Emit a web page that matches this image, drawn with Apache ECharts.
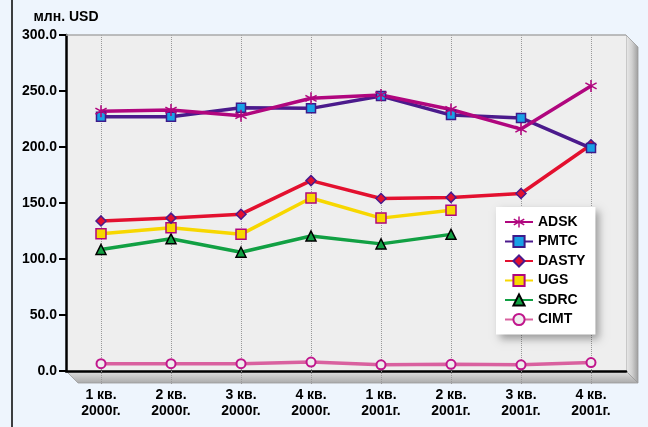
<!DOCTYPE html>
<html><head><meta charset="utf-8">
<script src="https://cdn.jsdelivr.net/npm/echarts@6/dist/echarts.min.js"></script>
<style>html,body{margin:0;padding:0;background:#eef5fd}#c{width:648px;height:427px}</style>
</head><body><div id="c"></div>
<script>
const categories = ['1 кв.\n2000г.','2 кв.\n2000г.','3 кв.\n2000г.','4 кв.\n2000г.','1 кв.\n2001г.','2 кв.\n2001г.','3 кв.\n2001г.','4 кв.\n2001г.'];
const yTicks = [0, 50, 100, 150, 200, 250, 300];
const ADSK  = [232, 233, 228, 243.5, 246.5, 233.5, 216, 254.5];
const PMTC  = [227, 227, 235, 234.5, 245.5, 228.5, 226, 199];
const DASTY = [134, 136.5, 140, 170, 154, 155, 158.5, 202];
const UGS   = [122.5, 128, 122, 154.5, 136.5, 143.5, null, null];
const SDRC  = [108.5, 118, 106, 120.5, 113.5, 122, null, null];
const CIMT  = [6.5, 6.5, 6.5, 8, 5.5, 6, 5.5, 7.5];

const asterisk = 'path://M-1.2,-10 L1.2,-10 L1.2,10 L-1.2,10 Z M-9.26,-3.96 L-8.06,-6.04 L9.26,3.96 L8.06,6.04 Z M8.06,-6.04 L9.26,-3.96 L-8.06,6.04 L-9.26,3.96 Z';
const font = "'Liberation Sans', Arial, sans-serif";

function mk(name, data, color, symbol, size, fill, border, bw) {
  return {
    name, type: 'line', data, xAxisIndex: 0,
    symbol, symbolSize: size, showAllSymbol: true,
    lineStyle: { color, width: 3.5 },
    itemStyle: { color: fill, borderColor: border, borderWidth: bw },
    emphasis: { disabled: true }, z: 3
  };
}

const chart = echarts.init(document.getElementById('c'), null, { renderer: 'canvas' });
chart.setOption({
  backgroundColor: '#eef5fd',
  animation: false,
  textStyle: { fontFamily: font },
  grid: { left: 66, right: 22, top: 35, bottom: 56, show: true, backgroundColor: '#eeeeee', borderWidth: 0 },
  legend: {
    orient: 'vertical', left: 496, top: 207,
    padding: [8, 10, 8, 8], itemGap: 5.5, itemWidth: 28, itemHeight: 14,
    backgroundColor: '#ffffff',
    shadowBlur: 8, shadowColor: 'rgba(0,0,0,0.35)', shadowOffsetX: 4, shadowOffsetY: 4,
    textStyle: { fontFamily: font, fontWeight: 'bold', fontSize: 14, color: '#000' },
    data: ['ADSK','PMTC','DASTY','UGS','SDRC','CIMT']
  },
  xAxis: [{
    type: 'category', data: categories, boundaryGap: true,
    axisLine: { lineStyle: { color: '#000', width: 2.5 } },
    axisTick: { length: 6, lineStyle: { color: '#000', width: 2 } },
    axisLabel: { interval: 0, margin: 16, fontFamily: font, fontWeight: 'bold', fontSize: 14, color: '#000', lineHeight: 16 },
    splitLine: { show: false }
  }, {
    type: 'category', data: categories, boundaryGap: true, position: 'bottom',
    axisLine: { show: false },
    axisLabel: { show: false },
    axisTick: { show: true, alignWithLabel: true, length: 14, lineStyle: { color: '#999', type: 'dotted', width: 1 } },
    splitLine: { show: true, alignWithLabel: true, lineStyle: { color: '#999', type: 'dotted', width: 1 } }
  }],
  yAxis: {
    type: 'value', min: yTicks[0], max: yTicks[yTicks.length - 1], interval: 50,
    name: 'млн. USD', nameLocation: 'end', nameGap: 11,
    nameTextStyle: { align: 'center', fontFamily: font, fontWeight: 'bold', fontSize: 14, color: '#000' },
    axisLine: { show: true, lineStyle: { color: '#000', width: 2.5 } },
    axisTick: { show: true, length: 7, lineStyle: { color: '#000', width: 2 } },
    axisLabel: { margin: 9, fontFamily: font, fontWeight: 'bold', fontSize: 14, color: '#000', formatter: v => v.toFixed(1) },
    splitLine: { show: false }
  },
  graphic: [
    { type: 'line', z: -1, shape: { x1: 12, y1: 0, x2: 12, y2: 427 }, style: { stroke: '#000', lineWidth: 1.5 } },
    { type: 'polygon', z: -1, shape: { points: [[66,371],[626,371],[638,383],[78,383]] },
      style: { fill: new echarts.graphic.LinearGradient(0,0,0,1,[{offset:0,color:'#e4e4e4'},{offset:1,color:'#a9a9a9'}]), stroke: '#9a9a9a', lineWidth: 0.8 } },
    { type: 'polygon', z: -1, shape: { points: [[626,35],[638,47],[638,383],[626,371]] },
      style: { fill: new echarts.graphic.LinearGradient(0,0,1,0,[{offset:0,color:'#ececec'},{offset:0.5,color:'#d0d0d0'},{offset:1,color:'#9c9c9c'}]), stroke: '#9a9a9a', lineWidth: 0.8 } },
    { type: 'line', z: 1, shape: { x1: 66, y1: 35, x2: 626, y2: 35 }, style: { stroke: '#a8a8a8', lineWidth: 1.5 } }
  ],
  series: [
    mk('CIMT', CIMT, '#d9609f', 'circle', 9, '#eeeeee', '#c0168c', 2),
    mk('SDRC', SDRC, '#11a043', 'triangle', 10, '#11a043', '#000000', 1.5),
    mk('UGS', UGS, '#f7d700', 'rect', 10, '#f7d700', '#b0067e', 1.5),
    mk('DASTY', DASTY, '#e3102f', 'diamond', 10, '#e3102f', '#4b1a8c', 1.5),
    mk('PMTC', PMTC, '#4b1a8c', 'rect', 9, '#18a0e6', '#3d1a8a', 1.5),
    mk('ADSK', ADSK, '#b0067e', asterisk, 12, '#b0067e', '#b0067e', 0)
  ]
});
</script></body></html>
